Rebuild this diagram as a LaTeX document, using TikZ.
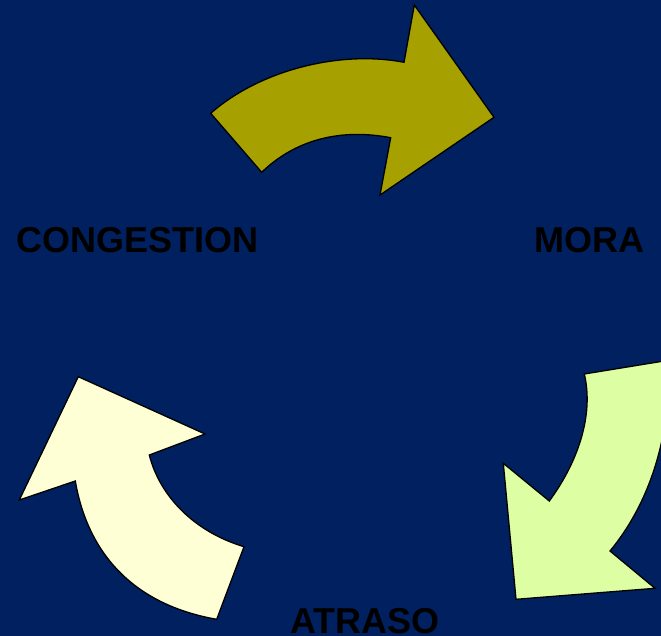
\documentclass[tikz,border=0pt]{standalone}
\usepackage{fontspec}
\setmainfont{Liberation Sans}
\definecolor{bgnavy}{RGB}{0,32,96}
\definecolor{olivearrow}{RGB}{166,160,0}
\definecolor{greenarrow}{RGB}{221,254,162}
\definecolor{creamarrow}{RGB}{255,255,213}
\begin{document}
\begin{tikzpicture}[x=1pt,y=-1pt,
  arrowshape/.style={draw=black,line width=1.3pt,line join=miter},
  label/.style={font=\fontsize{36}{40}\selectfont\bfseries,text=black,inner sep=0pt,anchor=base}]
\fill[bgnavy] (0,0) rectangle (661,636);
\useasboundingbox (0,0) rectangle (661,636);
\begin{scope}
\clip (0,0) rectangle (661,636);
% top arrow
\draw[arrowshape,fill=olivearrow] (210.7,113.3) .. controls (260,70) and (340,50) .. (404,62.3)
  -- (414.3,5) -- (494,117.3) -- (380,195) -- (390.7,137.7)
  .. controls (340,128) and (295,140) .. (261.7,172.3) -- cycle;
% right arrow
\draw[arrowshape,fill=greenarrow] (584.3,374) -- (669,360.2)
  .. controls (671,440) and (648,505) .. (610,551)
  -- (655,588.3) -- (516,599.3) -- (503.3,463.3) -- (549.3,501)
  .. controls (578,462) and (594,415) .. cycle;
% left arrow
\draw[arrowshape,fill=creamarrow] (216.7,619.3) -- (244,546.7)
  .. controls (195,532) and (160,497) .. (149.3,455)
  -- (205,434) -- (78.3,376.7) -- (19.3,500) -- (75.3,481)
  .. controls (88,555) and (135,605) .. cycle;
\end{scope}
\node[label] (congestion) at (137.5,253) {CONGESTION};
\node[label] (mora) at (589,253) {MORA};
\node[label] (atraso) at (364.7,633) {ATRASO};
\end{tikzpicture}
\end{document}
